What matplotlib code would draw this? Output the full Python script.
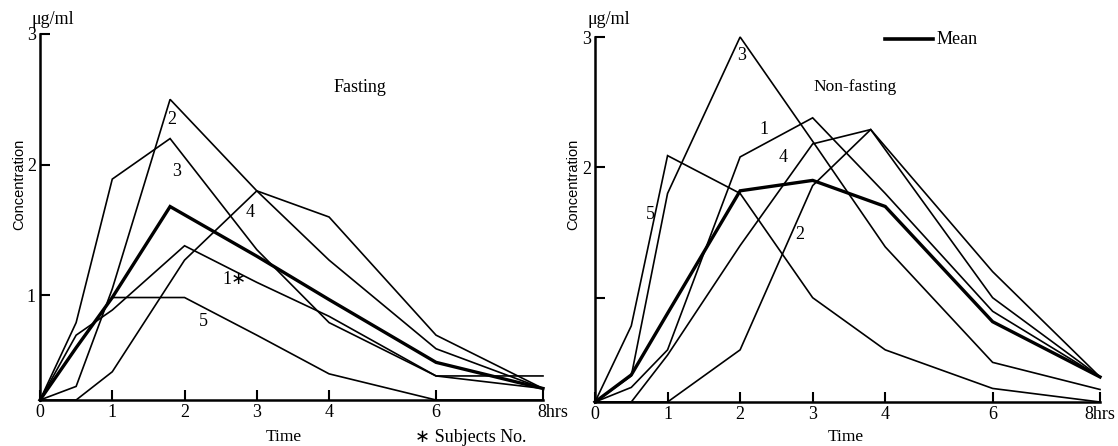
import numpy as np
import matplotlib
matplotlib.use("Agg")
import matplotlib.pyplot as plt

# sampling times and concentrations (ug/ml)
fast_t1 = [0, 0.5, 1, 2, 3, 4, 6, 8]
fast_s1 = [0, 0.62, 0.86, 1.38, 1.1, 0.8, 0.23, 0.11]
fast_t2 = [0, 0.5, 1, 1.8, 3, 4, 6, 8]
fast_s2 = [0, 0.13, 1.05, 2.5, 1.8, 1.27, 0.49, 0.11]
fast_t3 = [0, 0.5, 1, 1.8, 3, 4, 6, 8]
fast_s3 = [0, 0.74, 1.89, 2.2, 1.35, 0.74, 0.23, 0.23]
fast_t4 = [0, 0.5, 1, 2, 3, 4, 6, 8]
fast_s4 = [0, 0, 0.27, 1.27, 1.8, 1.6, 0.62, 0.11]
fast_t5 = [0, 0.5, 1, 2, 3, 4, 6, 8]
fast_s5 = [0, 0.5, 0.98, 0.98, 0.62, 0.25, 0, 0]
fast_tm = [0, 0.5, 1, 1.8, 3, 4, 6, 8]
fast_mean = [0, 0.5, 0.98, 1.68, 1.3, 0.96, 0.36, 0.11]

non_t1 = [0, 0.5, 1, 2, 3, 4, 6, 8]
non_s1 = [0, 0.14, 0.5, 2.08, 2.38, 1.8, 0.87, 0.24]
non_t2 = [0, 0.5, 1, 2, 3, 3.8, 6, 8]
non_s2 = [0, 0, 0, 0.5, 1.86, 2.29, 1.0, 0.24]
non_t3 = [0, 0.5, 1, 2, 3, 4, 6, 8]
non_s3 = [0, 0.25, 1.8, 3.0, 2.2, 1.39, 0.38, 0.12]
non_t4 = [0, 0.5, 1, 2, 3, 3.8, 6, 8]
non_s4 = [0, 0, 0.45, 1.4, 2.18, 2.29, 1.2, 0.24]
non_t5 = [0, 0.5, 1, 2, 3, 4, 6, 8]
non_s5 = [0, 0.73, 2.09, 1.8, 1.0, 0.5, 0.13, 0]
non_tm = [0, 0.5, 1, 2, 3, 4, 6, 8]
non_mean = [0, 0.26, 0.85, 1.82, 1.9, 1.7, 0.77, 0.24]

x_ticks = [0, 1, 2, 3, 4, 6, 8]
x_labels = ["0", "1", "2", "3", "4", "6", "8hrs"]
y_ticks = [1, 2, 3]

SERIF = ["Liberation Serif", "DejaVu Sans"]
W, H = 1118, 446


# the original hand-drawn axes are squeezed after 4 h and below 1 ug/ml
def fwd_x(t):
    t = np.asarray(t, float)
    return np.where(t <= 4, t, 4 + (t - 4) * 0.74)

def inv_x(p):
    p = np.asarray(p, float)
    return np.where(p <= 4, p, 4 + (p - 4) / 0.74)

def fwd_y(v):
    v = np.asarray(v, float)
    return np.where(v <= 1, v * 0.8, v - 0.2)

def inv_y(p):
    p = np.asarray(p, float)
    return np.where(p <= 0.8, p / 0.8, p + 0.2)


def px(x, y):
    return x / W, 1 - y / H


def setup(ax, ylabels):
    ax.set_xscale("function", functions=(fwd_x, inv_x))
    ax.set_yscale("function", functions=(fwd_y, inv_y))
    ax.set_xlim(0, 8)
    ax.set_ylim(0, 3)
    for s in ["top", "right"]:
        ax.spines[s].set_visible(False)
    for s in ["left", "bottom"]:
        ax.spines[s].set_linewidth(1.8)
    ax.set_xticks(x_ticks)
    ax.set_xticklabels(x_labels, fontfamily=SERIF, fontsize=13)
    ax.set_yticks(y_ticks)
    ax.set_yticklabels(ylabels, fontfamily=SERIF, fontsize=13)
    ax.xaxis.set_minor_locator(plt.NullLocator())
    ax.yaxis.set_minor_locator(plt.NullLocator())
    ax.tick_params(direction="in", length=7, width=1.5, pad=3)
    ax.patch.set_alpha(0)


def draw(ax, series, means):
    for t, v in series:
        ax.plot(t, v, color="black", lw=1.2, clip_on=False, solid_joinstyle="miter")
    t, v = means
    ax.plot(t, v, color="black", lw=2.4, clip_on=False, solid_joinstyle="miter")


fig = plt.figure(figsize=(W / 100, H / 100), dpi=100)
ax1 = fig.add_axes([40 / W, 46 / H, 503 / W, 366 / H])
ax2 = fig.add_axes([595 / W, 44 / H, 505 / W, 365 / H])

setup(ax1, ["1", "2", "3"])
setup(ax2, ["", "2", "3"])

# on the left panel "8hrs" starts at the tick
last = ax1.get_xticklabels()[-1]
last.set_horizontalalignment("left")
last.set_x(8)
import matplotlib.transforms as mtransforms
last.set_transform(last.get_transform() + mtransforms.ScaledTranslation(-6 / 100, 0, fig.dpi_scale_trans))

draw(ax1, [(fast_t1, fast_s1), (fast_t2, fast_s2), (fast_t3, fast_s3),
           (fast_t4, fast_s4), (fast_t5, fast_s5)], (fast_tm, fast_mean))
draw(ax2, [(non_t1, non_s1), (non_t2, non_s2), (non_t3, non_s3),
           (non_t4, non_s4), (non_t5, non_s5)], (non_tm, non_mean))

# curve numbers
for x, y, s in [(172, 119, "2"), (177, 172, "3"), (250, 213, "4"),
                (203, 322, "5"), (742, 55, "3"), (764, 130, "1"),
                (783, 157, "4"), (650, 215, "5"), (800, 235, "2")]:
    fig.text(*px(x, y), s, fontfamily=SERIF, fontsize=13, ha="center", va="center")
fig.text(*px(222, 280), "1∗", fontfamily=SERIF, fontsize=13, ha="left", va="center")

fig.text(*px(360, 87), "Fasting", fontfamily=SERIF, fontsize=13, ha="center", va="center")
fig.text(*px(855, 87), "Non-fasting", fontfamily=SERIF, fontsize=12.5, ha="center", va="center")

for x in (53, 609):
    fig.text(*px(x, 20), "μg/ml", fontfamily=SERIF, fontsize=13, ha="center", va="center")
for x in (19, 573):
    fig.text(*px(x, 184), "Concentration", fontfamily=["Liberation Sans"], fontsize=10.5,
             rotation=90, ha="center", va="center")

fig.text(*px(284, 437), "Time", fontfamily=SERIF, fontsize=12.5, ha="center", va="center")
fig.text(*px(846, 437), "Time", fontfamily=SERIF, fontsize=12.5, ha="center", va="center")
fig.text(*px(415, 437), "∗ Subjects No.", fontfamily=SERIF, fontsize=13, ha="left", va="center")

# legend for the thick line
fig.add_artist(plt.Line2D([885 / W, 933 / W], [1 - 39 / H, 1 - 39 / H],
                          color="black", lw=2.6))
fig.text(*px(937, 40), "Mean", fontfamily=SERIF, fontsize=13, ha="left", va="center")

fig.savefig("out.png", dpi=100)
